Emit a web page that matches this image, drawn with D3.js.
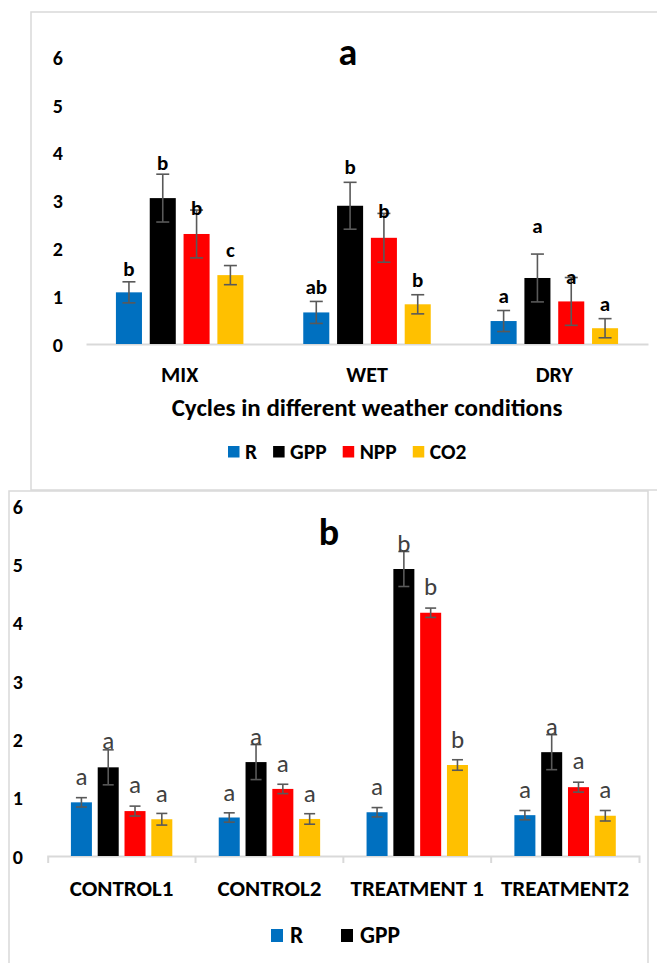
<!DOCTYPE html>
<html>
<head>
<meta charset="utf-8">
<script src="https://cdn.jsdelivr.net/npm/d3@7"></script>
<style>
  body { margin: 0; background: #fff; }
  svg text { font-family: Carlito, Calibri, Lato, "Open Sans", sans-serif; }
</style>
</head>
<body>
<div id="chart"></div>
<script>
// DATA

// panel a
let categories_a = ["MIX", "WET", "DRY"];
let series = ["R", "GPP", "NPP", "CO2"];
let colors = ["#0070C0", "#000000", "#FF0000", "#FFC000"];

let r_a   = [1.08, 0.66, 0.48];
let gpp_a = [3.05, 2.89, 1.38];
let npp_a = [2.30, 2.22, 0.89];
let co2_a = [1.44, 0.83, 0.33];

let r_err_a   = [0.22, 0.23, 0.22];
let gpp_err_a = [0.50, 0.49, 0.50];
let npp_err_a = [0.50, 0.51, 0.50];
let co2_err_a = [0.20, 0.20, 0.20];

// significance letters and the level (in chart units) where each one sits
let r_let_a   = ["b", "ab", "a"];
let gpp_let_a = ["b", "b", "a"];
let npp_let_a = ["b", "b", "a"];
let co2_let_a = ["c", "b", "a"];
let r_lev_a   = [1.42, 1.05, 0.85];
let gpp_lev_a = [3.64, 3.56, 2.33];
let npp_lev_a = [2.70, 2.63, 1.25];
let co2_lev_a = [1.81, 1.19, 0.68];

// panel b
let categories_b = ["CONTROL1", "CONTROL2", "TREATMENT 1", "TREATMENT2"];

let r_b   = [0.92, 0.66, 0.75, 0.70];
let gpp_b = [1.52, 1.61, 4.92, 1.78];
let npp_b = [0.77, 1.15, 4.17, 1.18];
let co2_b = [0.63, 0.635, 1.56, 0.69];

let r_err_b   = [0.08, 0.08, 0.08, 0.08];
let gpp_err_b = [0.30, 0.30, 0.30, 0.30];
let npp_err_b = [0.085, 0.08, 0.08, 0.085];
let co2_err_b = [0.10, 0.09, 0.09, 0.09];

let r_let_b   = ["a", "a", "a", "a"];
let gpp_let_b = ["a", "a", "b", "a"];
let npp_let_b = ["a", "a", "b", "a"];
let co2_let_b = ["a", "a", "b", "a"];
let r_lev_b   = [1.22, 0.95, 1.05, 1.00];
let gpp_lev_b = [1.83, 1.90, 5.22, 2.07];
let npp_lev_b = [1.075, 1.445, 4.47, 1.50];
let co2_lev_b = [0.93, 0.93, 1.86, 1.00];

let y_ticks = [0, 1, 2, 3, 4, 5, 6];

// build rows for drawing
function buildRows(cats, vals, errs, lets, levs) {
    let rows = [];
    cats.forEach((c, i) => {
        series.forEach((s, j) => {
            rows.push({cat: c, series: s, color: colors[j],
                value: vals[j][i], err: errs[j][i], letter: lets[j][i], level: levs[j][i]});
        });
    });
    return rows;
}

let rows_a = buildRows(categories_a,
    [r_a, gpp_a, npp_a, co2_a],
    [r_err_a, gpp_err_a, npp_err_a, co2_err_a],
    [r_let_a, gpp_let_a, npp_let_a, co2_let_a],
    [r_lev_a, gpp_lev_a, npp_lev_a, co2_lev_a]);

let rows_b = buildRows(categories_b,
    [r_b, gpp_b, npp_b, co2_b],
    [r_err_b, gpp_err_b, npp_err_b, co2_err_b],
    [r_let_b, gpp_let_b, npp_let_b, co2_let_b],
    [r_lev_b, gpp_lev_b, npp_lev_b, co2_lev_b]);

// CHART AREA
let svg = d3.select("#chart").append("svg")
    .attr("width", 657)
    .attr("height", 963);

// panel frames
svg.append("rect")
    .attr("x", 31).attr("y", 12).attr("width", 640).attr("height", 478)
    .attr("fill", "none").attr("stroke", "#d9d9d9").attr("stroke-width", 1.5);
svg.append("rect")
    .attr("x", 9).attr("y", 491).attr("width", 639).attr("height", 480)
    .attr("fill", "#fff").attr("stroke", "#d9d9d9").attr("stroke-width", 1.5);

function drawPanel(p) {
    let g = svg.append("g");

    // SCALES
    let x = d3.scaleBand().domain(p.categories).range([p.x0, p.x1]);
    let x_inner = d3.scaleBand().domain(series).range([0, x.bandwidth()])
        .paddingInner(p.pad_in).paddingOuter(p.pad_out);
    let y = d3.scaleLinear().domain([0, 6]).range([p.y0, p.y1]);

    // y axis (labels only)
    let y_axis = d3.axisLeft(y).tickValues(y_ticks).tickFormat(d3.format("d"))
        .tickSize(0).tickPadding(3);
    let y_group = g.append("g")
        .attr("transform", "translate(" + p.y_axis_x + ",0)")
        .call(y_axis);
    y_group.select(".domain").remove();
    y_group.selectAll("text")
        .attr("font-size", 20).attr("font-weight", "bold").attr("fill", "#000")
        .attr("dy", "0.36em");

    // x axis
    let x_axis = d3.axisBottom(x).tickSize(0).tickSizeOuter(p.outer_tick).tickPadding(p.label_pad);
    let x_group = g.append("g")
        .attr("transform", "translate(0," + p.y0 + ")")
        .call(x_axis);
    x_group.select(".domain").attr("stroke", "#d9d9d9").attr("stroke-width", 2);
    x_group.selectAll("text")
        .attr("font-size", p.cat_size).attr("font-weight", "bold").attr("fill", "#000");

    if (p.outer_tick > 0) {
        g.selectAll(".sep")
            .data(p.categories.slice(1))
            .enter().append("line")
            .attr("x1", d => x(d)).attr("x2", d => x(d))
            .attr("y1", p.y0).attr("y2", p.y0 + p.outer_tick)
            .attr("stroke", "#d9d9d9").attr("stroke-width", 2);
    }

    // DRAWING THE BARS
    let bar_x = d => x(d.cat) + x_inner(d.series);
    let bw = x_inner.bandwidth();

    g.selectAll(".bar")
        .data(p.rows)
        .enter().append("rect")
        .attr("class", "bar")
        .attr("x", bar_x)
        .attr("y", d => y(d.value))
        .attr("width", bw)
        .attr("height", d => y(0) - y(d.value))
        .attr("fill", d => d.color);

    // error bars
    let errs = g.selectAll(".err")
        .data(p.rows)
        .enter().append("g").attr("class", "err")
        .attr("stroke", "#595959").attr("stroke-width", 1.6);
    errs.append("line")
        .attr("x1", d => bar_x(d) + bw / 2).attr("x2", d => bar_x(d) + bw / 2)
        .attr("y1", d => y(d.value + d.err)).attr("y2", d => y(d.value - d.err));
    errs.append("line")
        .attr("x1", d => bar_x(d) + bw / 2 - p.cap).attr("x2", d => bar_x(d) + bw / 2 + p.cap)
        .attr("y1", d => y(d.value + d.err)).attr("y2", d => y(d.value + d.err));
    errs.append("line")
        .attr("x1", d => bar_x(d) + bw / 2 - p.cap).attr("x2", d => bar_x(d) + bw / 2 + p.cap)
        .attr("y1", d => y(d.value - d.err)).attr("y2", d => y(d.value - d.err));

    // letters
    g.selectAll(".letter")
        .data(p.rows)
        .enter().append("text")
        .attr("class", "letter")
        .attr("x", d => bar_x(d) + bw / 2)
        .attr("y", d => y(d.level))
        .attr("text-anchor", "middle")
        .attr("font-size", p.letter_size)
        .attr("font-weight", p.letter_weight)
        .attr("fill", p.letter_color)
        .text(d => d.letter);

    // title
    g.append("text")
        .attr("x", p.title_x).attr("y", p.title_y)
        .attr("text-anchor", "middle")
        .attr("font-size", 38).attr("font-weight", "bold")
        .text(p.title);

    return {x: x, y: y, g: g};
}

// PANEL A
let pa = drawPanel({
    categories: categories_a, rows: rows_a,
    x0: 86, x1: 648, y0: 344, y1: 57,
    pad_in: 0.23, pad_out: 0.885,
    y_axis_x: 66, outer_tick: 0, label_pad: 22, cat_size: 22,
    cap: 6.5, letter_size: 21, letter_weight: "bold", letter_color: "#000",
    title: "a", title_x: 348, title_y: 65
});

pa.g.append("text")
    .attr("x", 367).attr("y", 416)
    .attr("text-anchor", "middle")
    .attr("font-size", 25).attr("font-weight", "bold")
    .text("Cycles in different weather conditions");

// legend a
let legend_a = pa.g.append("g").attr("transform", "translate(228,446)");
let cursor = 0;
series.forEach((s, i) => {
    legend_a.append("rect")
        .attr("x", cursor).attr("y", 0).attr("width", 11.5).attr("height", 11.5)
        .attr("fill", colors[i]);
    let t = legend_a.append("text")
        .attr("x", cursor + 17).attr("y", 13)
        .attr("font-size", 21.5).attr("font-weight", "bold")
        .text(s);
    cursor += 17 + t.node().getComputedTextLength() + 16;
});

// PANEL B
let pb = drawPanel({
    categories: categories_b, rows: rows_b,
    x0: 47.7, x1: 639, y0: 856, y1: 506,
    pad_in: 0.216, pad_out: 0.866,
    y_axis_x: 26, outer_tick: 7, label_pad: 24, cat_size: 23,
    cap: 5.5, letter_size: 25, letter_weight: "normal", letter_color: "#404040",
    title: "b", title_x: 329, title_y: 545
});

// legend b (only R and GPP shown)
let legend_b = pb.g.append("g").attr("transform", "translate(271,929)");
series.slice(0, 2).forEach((s, i) => {
    legend_b.append("rect")
        .attr("x", i * 70).attr("y", 0).attr("width", 12).attr("height", 13)
        .attr("fill", colors[i]);
    legend_b.append("text")
        .attr("x", i * 70 + 19).attr("y", 14)
        .attr("font-size", 23.5).attr("font-weight", "bold")
        .text(s);
});
</script>
</body>
</html>
